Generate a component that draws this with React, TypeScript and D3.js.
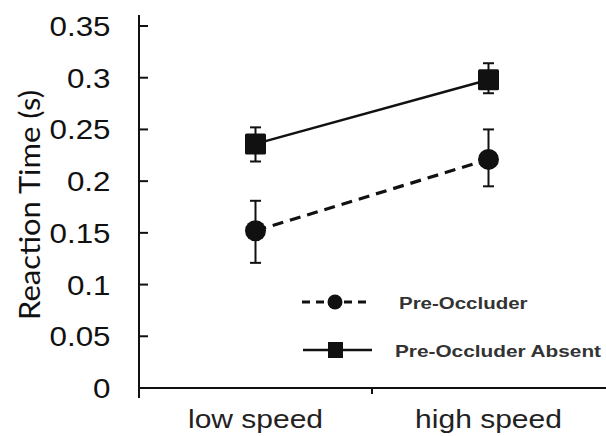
import { useRef, useEffect } from "react";
import * as d3 from "d3";

const speeds = ["low speed", "high speed"];
const yTicks = [0, 0.05, 0.1, 0.15, 0.2, 0.25, 0.3, 0.35];

const seriesNames = ["Pre-Occluder", "Pre-Occluder Absent"];
const preOccluder = [0.152, 0.221];
const preOccluderLo = [0.121, 0.195];
const preOccluderHi = [0.181, 0.25];
const absent = [0.236, 0.298];
const absentLo = [0.219, 0.285];
const absentHi = [0.252, 0.314];

export default function App() {
  const ref = useRef<SVGSVGElement>(null);

  useEffect(() => {
    if (!ref.current) return;
    const svg = d3.select(ref.current);
    svg.selectAll("*").remove();
    const font = "Arial, 'Liberation Sans', sans-serif";

    // text with a horizontal stretch, the picture is a bit wide
    const label = (px: number, py: number, s: string, size: number, sx: number, anchor = "start", weight = "normal", fill = "#111") =>
      svg.append("text").attr("transform", `translate(${px},${py}) scale(${sx},1)`)
        .attr("text-anchor", anchor).attr("font-family", font).attr("font-size", size)
        .attr("font-weight", weight).attr("fill", fill).text(s);

    const x = d3.scaleBand().domain(speeds).range([139, 605]);
    const y = d3.scaleLinear().domain([0, 0.35]).range([388, 26]);
    const cx = (s: string) => x(s)! + x.bandwidth() / 2;

    // y axis
    svg.append("line").attr("x1", 139).attr("x2", 139).attr("y1", 15).attr("y2", 398)
      .attr("stroke", "#111").attr("stroke-width", 2);
    yTicks.forEach(t => {
      svg.append("line").attr("x1", 139).attr("x2", 148).attr("y1", y(t)).attr("y2", y(t))
        .attr("stroke", "#111").attr("stroke-width", 2);
      label(110.5, y(t) + 10, String(t), 28, 1.12, "end");
    });
    svg.append("text").attr("transform", `translate(40,205) rotate(-90)`).attr("text-anchor", "middle")
      .attr("font-family", "Lato, 'Open Sans', sans-serif").attr("font-size", 28).attr("fill", "#111")
      .attr("textLength", 230).attr("lengthAdjust", "spacingAndGlyphs").text("Reaction Time (s)");

    // x axis
    svg.append("line").attr("x1", 139).attr("x2", 606).attr("y1", y(0)).attr("y2", y(0))
      .attr("stroke", "#111").attr("stroke-width", 2);
    svg.append("line").attr("x1", x("high speed")!).attr("x2", x("high speed")!).attr("y1", y(0)).attr("y2", y(0) + 6)
      .attr("stroke", "#111").attr("stroke-width", 2);
    speeds.forEach(s => label(cx(s), 428, s, 25, 1.2, "middle", "normal", "#222"));

    const errBars = (lo: number[], hi: number[]) => {
      speeds.forEach((s, i) => {
        svg.append("line").attr("x1", cx(s)).attr("x2", cx(s)).attr("y1", y(lo[i])).attr("y2", y(hi[i]))
          .attr("stroke", "#111").attr("stroke-width", 2);
        [lo[i], hi[i]].forEach(v => {
          svg.append("line").attr("x1", cx(s) - 5.5).attr("x2", cx(s) + 5.5).attr("y1", y(v)).attr("y2", y(v))
            .attr("stroke", "#111").attr("stroke-width", 2);
        });
      });
    };
    errBars(absentLo, absentHi);
    errBars(preOccluderLo, preOccluderHi);

    const line = d3.line<number>().x((_, i) => cx(speeds[i])).y(d => y(d));
    svg.append("path").datum(absent).attr("d", line).attr("fill", "none")
      .attr("stroke", "#111").attr("stroke-width", 2.5);
    svg.append("path").datum(preOccluder).attr("d", line).attr("fill", "none")
      .attr("stroke", "#111").attr("stroke-width", 3.2).attr("stroke-dasharray", "11,7");

    speeds.forEach((s, i) => {
      svg.append("rect").attr("x", cx(s) - 10.5).attr("y", y(absent[i]) - 10.5)
        .attr("width", 21).attr("height", 21).attr("rx", 1.5).attr("fill", "#111");
      svg.append("circle").attr("cx", cx(s)).attr("cy", y(preOccluder[i])).attr("r", 10.5).attr("fill", "#111");
    });

    // legend
    svg.append("path").attr("d", "M302,302H372").attr("stroke", "#111").attr("stroke-width", 3)
      .attr("stroke-dasharray", "8,6");
    svg.append("circle").attr("cx", 335).attr("cy", 302).attr("r", 7.5).attr("fill", "#111");
    svg.append("line").attr("x1", 303).attr("x2", 372).attr("y1", 350).attr("y2", 350)
      .attr("stroke", "#111").attr("stroke-width", 2.5);
    svg.append("rect").attr("x", 328).attr("y", 342).attr("width", 15).attr("height", 16).attr("fill", "#111");
    label(399, 309, seriesNames[0], 16, 1.28, "start", "bold", "#333");
    label(395, 356.5, seriesNames[1], 16, 1.3, "start", "bold", "#333");
  }, []);

  return <svg ref={ref} width={606} height={436} style={{ position: "absolute", left: 0, top: 0, background: "#fff" }} />;
}
